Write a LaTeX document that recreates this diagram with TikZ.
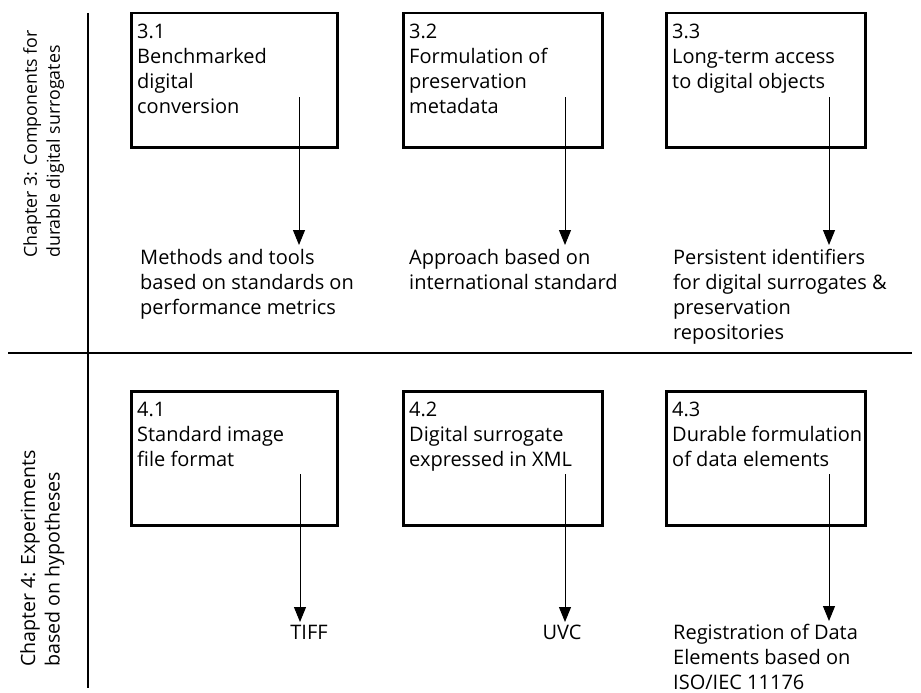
\documentclass[tikz,border=0pt]{standalone}
\usepackage{fontspec}
\setmainfont{Open Sans}
\usetikzlibrary{arrows.meta}
\begin{document}
\begin{tikzpicture}[x=1pt,y=-1pt,
  box/.style={draw, line width=2.5pt, anchor=north west, inner sep=0pt, minimum height=134pt},
  txt/.style={font=\fontsize{20}{25}\selectfont, align=left, inner sep=0pt, anchor=north west},
  chap/.style={align=left, inner sep=0pt, anchor=north west, rotate=90},
  arr/.style={-{Triangle[length=15pt,width=12pt]}, line width=1pt},
  rulel/.style={line width=2.5pt}]
\useasboundingbox (0,0) rectangle (921,693);
% frame lines
\coordinate (vtop) at (88,13);
\coordinate (vbot) at (88,688);
\coordinate (hl) at (8,353);
\coordinate (hr) at (912,353);
\draw[rulel] (vtop) -- (vbot);
\draw[rulel] (hl) -- (hr);
% chapter labels
\node[chap, font=\fontsize{17.8}{23}\selectfont] (c3) at (23,258) {Chapter 3: Components for\\durable digital surrogates};
\node[chap, font=\fontsize{19.6}{24.5}\selectfont] (c4) at (20,667) {Chapter 4: Experiments\\based on hypotheses};
% row 1 boxes
\node[box, minimum width=206pt] (b31) at (130,12) {};
\node[box, minimum width=199pt] (b32) at (402,12) {};
\node[box, minimum width=199pt] (b33) at (665,12) {};
\node[txt] (t31) at (137,24) {3.1\\Benchmarked\\digital\\conversion};
\node[txt] (t32) at (409,24) {3.2\\Formulation of\\preservation\\metadata};
\node[txt] (t33) at (672,24) {3.3\\Long-term access\\to digital objects};
% row 1 outcomes
\node[txt] (l31) at (140,249) {Methods and tools\\based on standards on\\performance metrics};
\node[txt] (l32) at (409,249) {Approach based on\\international standard};
\node[txt] (l33) at (673,249) {Persistent identifiers\\for digital surrogates \&\\preservation\\repositories};
\coordinate (s31) at (299,97);
\coordinate (s32) at (565,97);
\coordinate (s33) at (829,97);
\draw[arr] (s31) -- ([yshift=4pt]s31 |- l31.north);
\draw[arr] (s32) -- ([yshift=4pt]s32 |- l32.north);
\draw[arr] (s33) -- ([yshift=4pt]s33 |- l33.north);
% row 2 boxes
\node[box, minimum width=206pt] (b41) at (130,390) {};
\node[box, minimum width=199pt] (b42) at (402,390) {};
\node[box, minimum width=199pt] (b43) at (665,390) {};
\node[txt] (t41) at (137,402) {4.1\\Standard image\\file format};
\node[txt] (t42) at (409,402) {4.2\\Digital surrogate\\expressed in XML};
\node[txt] (t43) at (672,402) {4.3\\Durable formulation\\of data elements};
% row 2 outcomes
\node[txt, anchor=north] (l41) at (309,625) {TIFF};
\node[txt, anchor=north] (l42) at (562,625) {UVC};
\node[txt] (l43) at (673,624) {Registration of Data\\Elements based on\\ISO/IEC 11176};
\coordinate (s41) at (300,474);
\coordinate (s42) at (565,474);
\coordinate (s43) at (829,474);
\draw[arr] (s41) -- ([yshift=3pt]s41 |- l41.north);
\draw[arr] (s42) -- ([yshift=3pt]s42 |- l42.north);
\draw[arr] (s43) -- ([yshift=3pt]s43 |- l43.north);
\end{tikzpicture}
\end{document}
